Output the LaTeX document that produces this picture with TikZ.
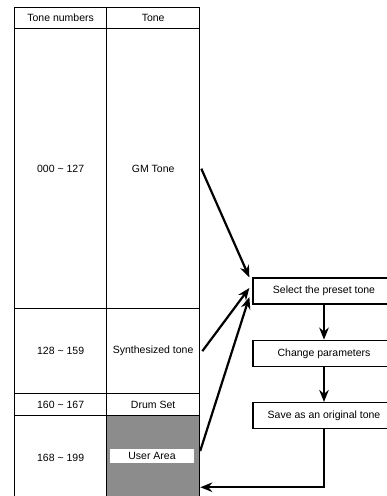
\documentclass[tikz,border=0pt]{standalone}
\usepackage{fontspec}
\setmainfont{Liberation Sans}
\usetikzlibrary{arrows.meta,positioning}

\begin{document}
\begin{tikzpicture}[x=1pt, y=-1pt, node distance=35pt, >={Stealth[length=12pt,width=9.5pt]},
  font=\fontsize{10.5}{12}\selectfont,
  cell/.style={draw, line width=1.3pt, anchor=north west, inner sep=0pt},
  flowbox/.style={draw, line width=1.3pt, minimum width=142pt, minimum height=26pt},
  link/.style={->, line width=2.2pt}]
  \useasboundingbox (0,0) rectangle (387,496);

  % table
  \node[cell, minimum width=92pt, minimum height=21pt] (hnum) at (14,7) {Tone numbers};
  \node[cell, minimum width=93pt, minimum height=21pt] (htone) at (106,7) {Tone};
  \node[cell, minimum width=92pt, minimum height=280pt] (gmnum) at (14,28) {000 \textasciitilde\ 127};
  \node[cell, minimum width=93pt, minimum height=280pt] (gmtone) at (106,28) {GM Tone};
  \node[cell, minimum width=92pt, minimum height=85pt] (synnum) at (14,308) {128 \textasciitilde\ 159};
  \node[cell, minimum width=93pt, minimum height=85pt] (syntone) at (106,308) {Synthesized tone};
  \node[cell, minimum width=92pt, minimum height=22pt] (drumnum) at (14,393) {160 \textasciitilde\ 167};
  \node[cell, minimum width=93pt, minimum height=22pt] (drumtone) at (106,393) {Drum Set};
  \node[cell, minimum width=92pt, minimum height=85pt] (usrnum) at (14,415) {168 \textasciitilde\ 199};
  \node[cell, fill=black!45, minimum width=93pt, minimum height=85pt] (usrtone) at (106,415) {};
  \node[fill=white, minimum width=84pt, minimum height=14pt, inner sep=0pt] (usrlbl) at (152,456) {User Area};

  % flow
  \node[flowbox] (select) at (324,291) {Select the preset tone};
  \node[flowbox, below=of select] (change) {Change parameters};
  \node[flowbox, below=of change] (save) {Save as an original tone};
  \path (save.south) ++(0,58) coordinate (turn);

  \draw[link] ([xshift=1pt]gmtone.east) -- ([xshift=-3pt]select.north west);
  \draw[link] ([xshift=2pt]syntone.east) -- ([shift={(-3,-3)}]select.west);
  \draw[link] ([shift={(6,-5)}]usrlbl.east) -- ([shift={(-3,6)}]select.west);
  \draw[link] (select) -- (change);
  \draw[link] (change) -- (save);
  \draw[link] (save.south) |- (usrtone.east |- turn);
\end{tikzpicture}
\end{document}
